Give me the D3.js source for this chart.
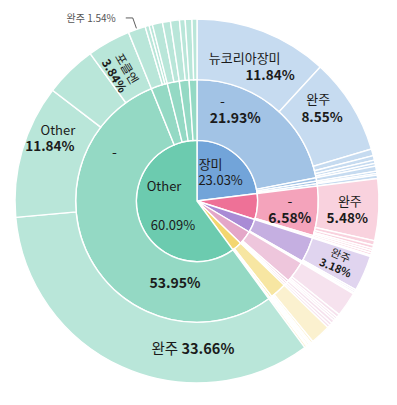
<!DOCTYPE html>
<meta charset="utf-8">
<style>
body { margin: 0; background: #fff; }
svg text { font-family: "Noto Sans CJK KR", "Noto Sans", sans-serif; fill: #1b1b1b; dominant-baseline: central; text-anchor: middle; }
.arcs path { stroke: #fff; stroke-width: 1.4; }
</style>
<svg width="397" height="405"></svg>
<script src="https://cdn.jsdelivr.net/npm/d3@7/dist/d3.min.js"></script>
<script>

// ring 1 (centre)
var innerNames = ["장미", "품종B", "품종C", "품종D", "품종E", "Other"];

// ring 2 : parent = index in innerNames
var midParent = [0,0,0,0, 1,1,1, 2,2,2, 3,3,3,3, 4,4,4, 5,5,5,5,5];
var midNames  = ["-","기타","기타","기타", "-","기타","기타", "-","기타","기타",
                 "-","기타","기타","기타", "-","기타","기타", "-","기타","기타","기타","기타"];

// ring 3 (leaves) : parent = index in midNames
var outerParent = [0,0,0,0,0,0, 1, 2,2, 3, 4,4,4,4,4, 5, 6, 7,7, 8, 9,
                   10,10,10,10, 11, 12, 13, 14,14,14,14, 15,15, 16,
                   17,17,17,17, 18,18,18, 19,19, 20,20, 21,21];
var outerNames  = ["뉴코리아장미","완주","기타","기타","기타","기타", "기타", "기타","기타", "기타",
                   "완주","기타","기타","기타","기타", "기타", "기타", "완주","기타", "기타", "기타",
                   "완주","기타","기타","기타", "기타", "기타", "기타", "완주","기타","기타","기타", "기타","기타", "기타",
                   "완주","Other","기타","포클엔", "완주","기타","기타", "기타","기타", "기타","기타", "기타","기타"];
var outerValues = [11.84, 8.55, 0.6, 0.4, 0.3, 0.24, 0.45, 0.2, 0.15, 0.3,
                   5.48, 0.4, 0.3, 0.2, 0.2, 0.2, 0.12, 3.18, 0.17, 0.15, 0.1,
                   2.2, 0.3, 0.2, 0.2, 0.3, 0.25, 0.25, 1.8, 0.2, 0.1, 0.1, 0.15, 0.13, 0.2,
                   33.66, 11.84, 4.61, 3.84, 1.54, 0.36, 0.3, 0.9, 0.7, 0.8, 0.5, 0.6, 0.44];

// colour family per centre slice, light steps per ring
var palette = [
  ["#72a4d9", "#a2c3e5", "#c6dbf0"],
  ["#ee7197", "#f4a3bb", "#f9d2de"],
  ["#a98bd5", "#c5afe1", "#e0d4ef"],
  ["#e4a7c8", "#eec6dc", "#f6e2ee"],
  ["#f3d670", "#f7e6a2", "#fbf1cf"],
  ["#6ccbaf", "#94d9c4", "#b9e6d9"]
];

var svg = d3.select("svg");
var g = svg.append("g").attr("transform", "translate(197,201)");

// build the tree
var root = {name: "root", children: innerNames.map(function(n, i) {
  return {name: n, lvl: 1, idx: i, children: []};
})};
var mids = midNames.map(function(n, i) {
  var m = {name: n, lvl: 2, idx: i, children: []};
  root.children[midParent[i]].children.push(m);
  return m;
});
outerNames.forEach(function(n, i) {
  mids[outerParent[i]].children.push({name: n, lvl: 3, idx: i, value: outerValues[i]});
});

var hier = d3.hierarchy(root).sum(function(d) { return d.value || 0; });
d3.partition().size([2 * Math.PI, 4])(hier);
var total = hier.value;

var r = d3.scaleLinear().domain([1, 4]).range([0, 182]);

var arc = d3.arc()
  .startAngle(function(d) { return d.x0; })
  .endAngle(function(d) { return d.x1; })
  .innerRadius(function(d) { return r(d.y0); })
  .outerRadius(function(d) { return r(d.y1); });

function family(d) { return d.ancestors().find(function(a) { return a.depth == 1; }).data.idx; }

g.append("g").attr("class", "arcs")
  .selectAll("path")
  .data(hier.descendants().filter(function(d) { return d.depth > 0; }))
  .enter().append("path")
  .attr("d", arc)
  .attr("fill", function(d) { return palette[family(d)][d.depth - 1]; });

var pct = function(d) { return d3.format(".2f")(d.value / total * 100) + "%"; };

function findNode(lvl, idx) {
  return hier.descendants().find(function(d) { return d.data.lvl == lvl && d.data.idx == idx; });
}
// point inside a slice: t along the angle, f across the ring
function spot(d, t, f) {
  var a = d.x0 + t * (d.x1 - d.x0);
  var rad = r(d.y0) + f * (r(d.y1) - r(d.y0));
  return {a: a, x: rad * Math.sin(a), y: -rad * Math.cos(a)};
}

// flat labels, each line placed on its own
var flat = [
  {lvl: 1, idx: 0, lines: [["name", .24, .66, 13, 400], ["pct", .57, .53, 13, 400]]},
  {lvl: 1, idx: 5, lines: [["name", .70, .60, 13, 400], ["pct", .38, .55, 13, 400]]},
  {lvl: 2, idx: 0, lines: [["name", .18, .71, 14, 400], ["pct", .31, .52, 14, 700]]},
  {lvl: 2, idx: 4, lines: [["name", .27, .53, 14, 400], ["pct", .70, .55, 14, 700]]},
  {lvl: 2, idx: 17, lines: [["name", .81, .59, 14, 400], ["pct", .265, .39, 14, 700]]},
  {lvl: 3, idx: 0, lines: [["name", .43, .50, 13, 400], ["pct", .70, .42, 13.5, 700]]},
  {lvl: 3, idx: 1, lines: [["name", .23, .62, 13, 400], ["pct", .43, .49, 13.5, 700]]},
  {lvl: 3, idx: 10, lines: [["name", .35, .52, 13, 400], ["pct", .66, .49, 13.5, 700]]},
  {lvl: 3, idx: 36, lines: [["name", .76, .58, 13, 400], ["pct", .61, .595, 13.5, 700]]}
];

flat.forEach(function(l) {
  var d = findNode(l.lvl, l.idx);
  l.lines.forEach(function(ln) {
    var p = spot(d, ln[1], ln[2]);
    g.append("text")
      .attr("x", p.x).attr("y", p.y)
      .attr("font-size", ln[3])
      .attr("font-weight", ln[4])
      .text(ln[0] == "name" ? d.data.name : pct(d));
  });
});

// one-line label
var big = findNode(3, 35);
var bp = spot(big, .313, .4);
var bt = g.append("text").attr("x", bp.x).attr("y", bp.y).attr("font-size", 14.5);
bt.append("tspan").text(big.data.name + " ");
bt.append("tspan").attr("font-weight", 600).text(pct(big));

// radial labels
[{lvl: 3, idx: 17, t: .45, f: .53, size: 11}, {lvl: 3, idx: 38, t: .41, f: .47, size: 12}].forEach(function(l) {
  var d = findNode(l.lvl, l.idx);
  var p = spot(d, l.t, l.f);
  var deg = p.a * 180 / Math.PI;
  var rot = deg < 180 ? deg - 90 : deg - 270;
  var lg = g.append("g").attr("transform", "translate(" + p.x + "," + p.y + ") rotate(" + rot + ")");
  lg.append("text").attr("y", -l.size * 0.6).attr("font-size", l.size).text(d.data.name);
  lg.append("text").attr("y", l.size * 0.6).attr("font-size", l.size).attr("font-weight", 700).text(pct(d));
});

// outside label with leader line
var sm = findNode(3, 39);
var ma = (sm.x0 + sm.x1) / 2;
var p0 = [(r(4) + 1) * Math.sin(ma), -(r(4) + 1) * Math.cos(ma)];
var p1 = [(r(4) + 12) * Math.sin(ma), -(r(4) + 12) * Math.cos(ma)];
var p2 = [p1[0] - 7, p1[1]];
g.append("path")
  .attr("d", d3.line()([p0, p1, p2]))
  .attr("fill", "none").attr("stroke", "#333").attr("stroke-width", 0.8);
g.append("text")
  .attr("x", p2[0] - 10).attr("y", p2[1])
  .attr("font-size", 10)
  .style("text-anchor", "end")
  .style("fill", "#555")
  .text(sm.data.name + "  " + d3.format(".2f")(sm.value / total * 100) + "%");

</script>
